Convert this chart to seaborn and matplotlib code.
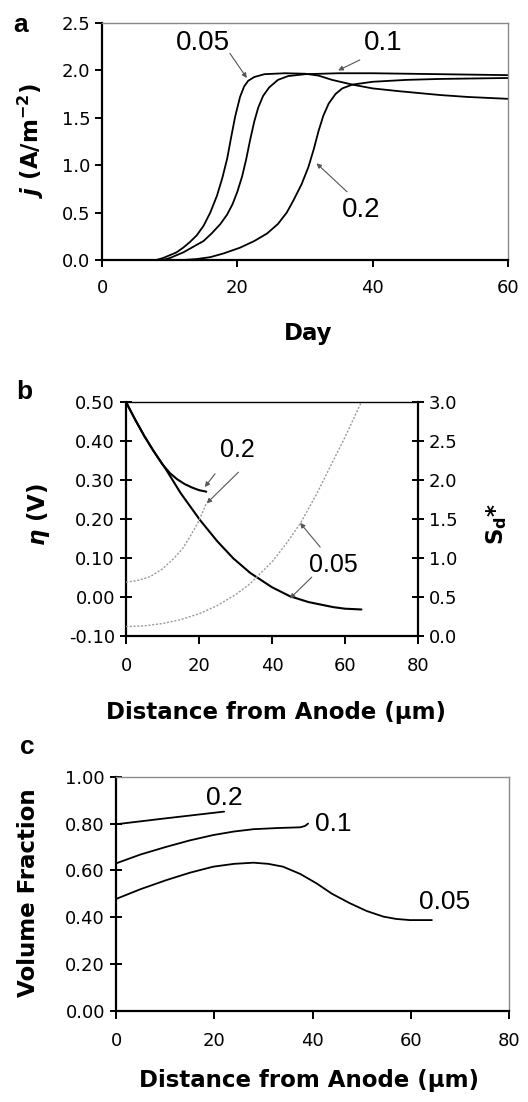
import numpy as np
import pandas as pd
import matplotlib
matplotlib.use("Agg")
import matplotlib.pyplot as plt
import seaborn as sns

sns.set_style("ticks")
plt.rcParams['font.family'] = ['DejaVu Sans']
plt.rcParams['mathtext.fontset'] = 'dejavusans'
for k in ['text.color', 'axes.labelcolor', 'xtick.color', 'ytick.color', 'axes.edgecolor']:
    plt.rcParams[k] = 'black'

# ---------------- Panel a data: current density vs day ----------------
day_005 = [0, 8, 9, 10, 11, 12, 13, 14, 15, 16, 17, 17.8, 18.5, 19.1, 19.7, 20.4, 21, 21.6, 22.5, 24, 27, 30, 32, 34, 37, 40, 44, 50, 54, 60]
j_005 = [0, 0, 0.02, 0.05, 0.08, 0.13, 0.19, 0.26, 0.36, 0.5, 0.68, 0.87, 1.07, 1.3, 1.52, 1.72, 1.83, 1.89, 1.93, 1.96, 1.97, 1.965, 1.945, 1.90, 1.85, 1.81, 1.78, 1.74, 1.72, 1.70]
day_01 = [0, 9, 10, 11, 12, 13.5, 15, 16.2, 17.5, 18.5, 19.3, 20, 20.7, 21.3, 21.9, 22.5, 23.1, 23.8, 24.7, 26, 27.5, 30, 35, 40, 50, 60]
j_01 = [0, 0, 0.02, 0.05, 0.08, 0.14, 0.20, 0.28, 0.38, 0.48, 0.59, 0.72, 0.88, 1.06, 1.27, 1.46, 1.61, 1.73, 1.82, 1.90, 1.94, 1.96, 1.97, 1.97, 1.96, 1.95]
day_02 = [0, 12, 14, 16, 18, 20.4, 22.5, 24.4, 26, 27.3, 28.3, 29.5, 30.5, 31.3, 32, 32.7, 33.5, 34.5, 35.5, 37, 40, 45, 50, 60]
j_02 = [0, 0, 0.01, 0.03, 0.07, 0.13, 0.2, 0.28, 0.38, 0.5, 0.63, 0.8, 0.98, 1.17, 1.36, 1.52, 1.65, 1.75, 1.81, 1.85, 1.88, 1.90, 1.91, 1.92]

# ---------------- Panel b data: overpotential and Sd* vs distance ----------------
x_eta_02 = [0, 2.5, 5, 7.5, 10, 12, 14, 16, 18, 20, 22]
eta_02 = [0.50, 0.455, 0.413, 0.375, 0.340, 0.318, 0.302, 0.290, 0.281, 0.274, 0.270]
x_eta_005 = [0, 2.5, 5, 7.5, 11.1, 15, 20.3, 25, 29.4, 34, 40, 44.9, 50, 56.8, 60, 64.5]
eta_005 = [0.50, 0.455, 0.413, 0.375, 0.325, 0.266, 0.197, 0.143, 0.099, 0.062, 0.025, 0.002, -0.013, -0.026, -0.030, -0.032]
x_sd_02 = [0, 3, 6.6, 10, 13, 15.5, 17.5, 20, 22]
sd_02 = [0.69, 0.71, 0.76, 0.86, 0.99, 1.12, 1.27, 1.48, 1.70]
x_sd_005 = [0, 5, 10, 15, 20.3, 25, 30, 34, 40, 44, 47.7, 52, 56.8, 60, 64.5]
sd_005 = [0.12, 0.13, 0.16, 0.21, 0.29, 0.39, 0.53, 0.67, 0.95, 1.19, 1.44, 1.8, 2.25, 2.55, 3.0]

# ---------------- Panel c data: volume fraction vs distance ----------------
x_vf_02 = [0, 10, 22]
vf_02 = [0.797, 0.822, 0.851]
x_vf_01 = [0, 5, 10.3, 15, 19.8, 24, 28, 33, 37.5, 38.5, 39.1]
vf_01 = [0.630, 0.668, 0.701, 0.728, 0.751, 0.766, 0.776, 0.781, 0.784, 0.790, 0.800]
x_vf_005 = [0, 5, 10.3, 15, 19.8, 24, 28, 31, 34, 37.5, 40.8, 44, 47.6, 51, 54.4, 57, 59.8, 64.3]
vf_005 = [0.478, 0.52, 0.559, 0.590, 0.616, 0.628, 0.633, 0.628, 0.616, 0.585, 0.545, 0.500, 0.460, 0.427, 0.403, 0.393, 0.388, 0.388]

labels_a = ["0.05", "0.1", "0.2"]
labels_b = ["0.2", "0.05"]
labels_c = ["0.2", "0.1", "0.05"]

W, H = 528, 1102
fig = plt.figure(figsize=(W / 100, H / 100), dpi=100)

def fx(px):
    return px / W

def fy(py):
    return 1 - py / H

TICK_FS = 13
LAB_FS = 16.5
ANN_FONT = ['Liberation Sans', 'DejaVu Sans']
arrow = dict(arrowstyle='-|>', color='#555555', lw=0.8, mutation_scale=7, shrinkA=0, shrinkB=0)

def style_axes(ax, grey_box=True):
    for s in ['left', 'bottom']:
        ax.spines[s].set_color('black')
        ax.spines[s].set_linewidth(1.6)
    for s in ['top', 'right']:
        ax.spines[s].set_visible(True)
        ax.spines[s].set_color('#8a8a8a' if grey_box else 'black')
        ax.spines[s].set_linewidth(1.0)
    ax.tick_params(labelsize=TICK_FS, colors='black', width=1.4)
    ax.set_xlabel('')
    ax.set_ylabel('')

# ---------------- Panel a ----------------
axa = fig.add_axes([fx(102), fy(260), fx(406), 237 / H])
for d, j in [(day_005, j_005), (day_01, j_01), (day_02, j_02)]:
    sns.lineplot(x=d, y=j, ax=axa, color='black', lw=1.3, sort=False)
axa.set_xlim(0, 60)
axa.set_ylim(0, 2.5)
axa.set_xticks([0, 20, 40, 60])
axa.set_yticks([0, 0.5, 1.0, 1.5, 2.0, 2.5])
axa.set_yticklabels(['0.0', '0.5', '1.0', '1.5', '2.0', '2.5'])
style_axes(axa)
axa.tick_params(axis='both', direction='out', length=5)
axa.tick_params(axis='x', pad=9)
axa.text(14.9, 2.29, labels_a[0], ha='center', va='center', fontsize=20, family=ANN_FONT)
axa.annotate('', xy=(21.4, 1.92), xytext=(18.9, 2.18), arrowprops=arrow)
axa.text(41.5, 2.29, labels_a[1], ha='center', va='center', fontsize=20, family=ANN_FONT)
axa.annotate('', xy=(34.9, 2.0), xytext=(38.1, 2.11), arrowprops=arrow)
axa.text(38.3, 0.53, labels_a[2], ha='center', va='center', fontsize=20, family=ANN_FONT)
axa.annotate('', xy=(31.7, 1.02), xytext=(36.2, 0.72), arrowprops=arrow)

# ---------------- Panel b ----------------
axb = fig.add_axes([fx(126), fy(636), fx(292), 234 / H])
sns.lineplot(x=x_eta_005, y=eta_005, ax=axb, color='black', lw=1.5, sort=False)
sns.lineplot(x=x_eta_02, y=eta_02, ax=axb, color='black', lw=1.5, sort=False)
axb.set_xlim(0, 80)
axb.set_ylim(-0.10, 0.50)
axb.set_xticks([0, 20, 40, 60, 80])
axb.set_yticks(np.round(np.arange(-0.10, 0.51, 0.10), 2))
axb.set_yticklabels(['-0.10', '0.00', '0.10', '0.20', '0.30', '0.40', '0.50'])
style_axes(axb, grey_box=False)
axb.spines['right'].set_visible(False)
axb.tick_params(axis='y', direction='inout', length=9)
axb.tick_params(axis='x', direction='out', length=6, pad=9)

ax2 = axb.twinx()
sns.lineplot(x=x_sd_02, y=sd_02, ax=ax2, color='#9a9a9a', lw=1.0, linestyle=(0, (1.5, 1.2)), sort=False)
sns.lineplot(x=x_sd_005, y=sd_005, ax=ax2, color='#9a9a9a', lw=1.0, linestyle=(0, (1.5, 1.2)), sort=False)
ax2.set_ylim(0, 3.0)
ax2.set_yticks([0, 0.5, 1.0, 1.5, 2.0, 2.5, 3.0])
ax2.set_yticklabels(['0.0', '0.5', '1.0', '1.5', '2.0', '2.5', '3.0'])
ax2.set_ylabel('')
for s in ['left', 'top', 'bottom']:
    ax2.spines[s].set_visible(False)
ax2.spines['right'].set_color('black')
ax2.spines['right'].set_linewidth(1.6)
ax2.tick_params(axis='y', direction='inout', length=9, width=1.4, labelsize=TICK_FS, colors='black')

axb.text(30.4, 0.376, labels_b[0], ha='center', va='center', fontsize=18, family=ANN_FONT)
axb.annotate('', xy=(21.6, 0.282), xytext=(24.4, 0.316), arrowprops=arrow)
axb.annotate('', xy=(22.1, 0.24), xytext=(30.8, 0.32), arrowprops=arrow)
axb.text(56.7, 0.081, labels_b[1], ha='center', va='center', fontsize=18, family=ANN_FONT)
axb.annotate('', xy=(47.7, 0.19), xytext=(53.2, 0.128), arrowprops=arrow)
axb.annotate('', xy=(44.9, -0.004), xytext=(50.9, 0.051), arrowprops=arrow)

# ---------------- Panel c ----------------
axc = fig.add_axes([fx(116), fy(1011), fx(393), 234.3 / H])
for xv, yv in [(x_vf_02, vf_02), (x_vf_01, vf_01), (x_vf_005, vf_005)]:
    sns.lineplot(x=xv, y=yv, ax=axc, color='black', lw=1.3, sort=False)
axc.set_xlim(0, 80)
axc.set_ylim(0, 1.0)
axc.set_xticks([0, 20, 40, 60, 80])
axc.set_yticks([0, 0.2, 0.4, 0.6, 0.8, 1.0])
axc.set_yticklabels(['0.00', '0.20', '0.40', '0.60', '0.80', '1.00'])
style_axes(axc)
axc.tick_params(axis='y', direction='inout', length=9)
axc.tick_params(axis='x', direction='out', length=6, pad=9)
axc.text(22, 0.911, labels_c[0], ha='center', va='center', fontsize=19, family=ANN_FONT)
axc.text(44.2, 0.80, labels_c[1], ha='center', va='center', fontsize=19, family=ANN_FONT)
axc.text(66.8, 0.467, labels_c[2], ha='center', va='center', fontsize=19, family=ANN_FONT)

# ---------------- Labels ----------------
PANEL_FONT = ['Liberation Sans', 'DejaVu Sans']
fig.text(fx(21), fy(25), 'a', fontsize=19, fontweight='bold', family=PANEL_FONT, ha='center', va='center')
fig.text(fx(24), fy(392), 'b', fontsize=19, fontweight='bold', family=PANEL_FONT, ha='center', va='center')
fig.text(fx(27), fy(747), 'c', fontsize=19, fontweight='bold', family=PANEL_FONT, ha='center', va='center')

fig.text(fx(308), fy(340), 'Day', fontsize=LAB_FS, fontweight='bold', ha='center', va='baseline')
fig.text(fx(276), fy(719), 'Distance from Anode (\u03bcm)', fontsize=LAB_FS, fontweight='bold', ha='center', va='baseline')
fig.text(fx(309), fy(1087), 'Distance from Anode (\u03bcm)', fontsize=LAB_FS, fontweight='bold', ha='center', va='baseline')

fig.text(fx(31), fy(140), r'$\boldsymbol{j}$ (A/m$^{\mathbf{-2}}$)', fontsize=LAB_FS, fontweight='bold',
         rotation=90, ha='center', va='center')
fig.text(fx(38), fy(515), r'$\boldsymbol{\eta}$ (V)', fontsize=LAB_FS, fontweight='bold',
         rotation=90, ha='center', va='center')
fig.text(fx(497), fy(524), r'$\mathbf{S}_{\mathbf{d}}$*', fontsize=LAB_FS, fontweight='bold',
         rotation=90, ha='center', va='center')
fig.text(fx(29), fy(893), 'Volume Fraction', fontsize=LAB_FS, fontweight='bold',
         rotation=90, ha='center', va='center')

fig.savefig('out.png', dpi=100)
